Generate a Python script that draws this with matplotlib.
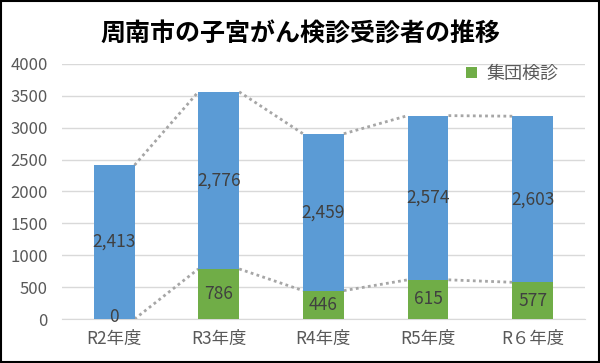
import matplotlib
matplotlib.use('Agg')
import matplotlib.pyplot as plt
import numpy as np

plt.rcParams['font.family'] = ['Noto Sans CJK JP', 'DejaVu Sans']

years = ['R2年度', 'R3年度', 'R4年度', 'R5年度', 'R６年度']
group = [0, 786, 446, 615, 577]        # 集団検診
indiv = [2413, 2776, 2459, 2574, 2603]  # 個別検診

blue = '#5B9BD5'
green = '#70AD47'

fig = plt.figure(figsize=(6, 3.63), dpi=100)
ax = fig.add_axes([0.103, 0.121, 0.872, 0.703])

x = np.arange(len(years))
w = 0.39
total = np.array(group) + np.array(indiv)

ax.bar(x, group, w, color=green, label='集団検診', zorder=3)
ax.bar(x, indiv, w, bottom=group, color=blue, zorder=3)

# series lines
for i in range(len(x) - 1):
    ax.plot([x[i] + w / 2, x[i + 1] - w / 2], [group[i], group[i + 1]],
            ls=(0, (1, 1.2)), color='#A6A6A6', lw=2, zorder=2)
    ax.plot([x[i] + w / 2, x[i + 1] - w / 2], [total[i], total[i + 1]],
            ls=(0, (1, 1.2)), color='#A6A6A6', lw=2, zorder=2)

for i in range(len(x)):
    ax.text(x[i], max(group[i] / 2, 40), f'{group[i]:,}', ha='center', va='center',
            fontsize=12.5, color='#404040', zorder=4)
    ax.text(x[i], group[i] + indiv[i] / 2, f'{indiv[i]:,}', ha='center', va='center',
            fontsize=12.5, color='#404040', zorder=4)

ax.set_xlim(-0.5, 4.5)
ax.set_ylim(0, 4000)
ax.set_yticks(range(0, 4001, 500))
ax.set_xticks(x)
ax.set_xticklabels(years, fontsize=12.5, color='#595959')
ax.tick_params(axis='y', labelsize=12, labelcolor='#595959', length=0, pad=10)
ax.tick_params(axis='x', length=0, pad=8)
ax.grid(axis='y', color='#D9D9D9', lw=1, zorder=0)
for s in ['top', 'right', 'left']:
    ax.spines[s].set_visible(False)
ax.spines['bottom'].set_color('#D9D9D9')

ax.legend(loc='upper right', bbox_to_anchor=(0.98, 1.06), frameon=False, fontsize=13,
          handlelength=0.6, handleheight=0.6, handletextpad=0.5, labelcolor='#595959')

fig.text(0.5, 0.905, '周南市の子宮がん検診受診者の推移', ha='center', va='center',
         fontsize=18, fontweight='bold', color='black')

fig.patches.append(plt.Rectangle((0.002, 0.003), 0.996, 0.994, transform=fig.transFigure,
                                 fill=False, edgecolor='black', lw=1.5))

fig.savefig('out.png', dpi=100)
